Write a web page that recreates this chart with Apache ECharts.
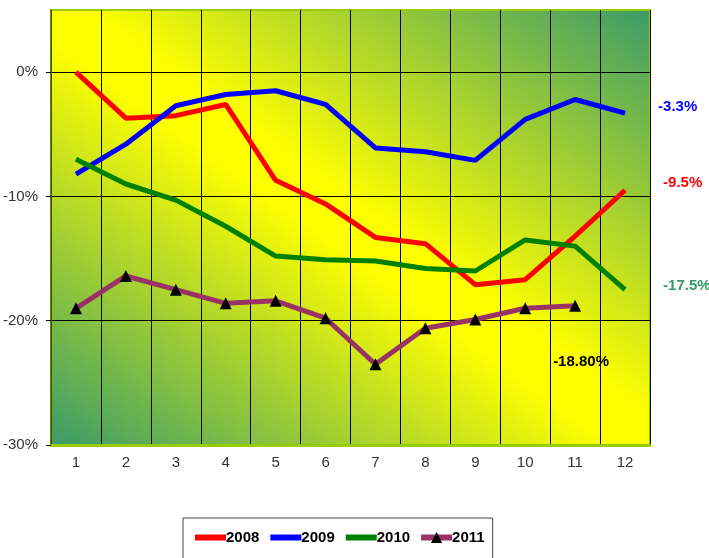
<!DOCTYPE html>
<html>
<head>
<meta charset="utf-8">
<script src="https://cdn.jsdelivr.net/npm/echarts@6/dist/echarts.min.js"></script>
<style>
html,body{margin:0;padding:0;background:#fff;}
#c{width:709px;height:558px;}
</style>
</head>
<body>
<div id="c"></div>
<script>
var months = ['1','2','3','4','5','6','7','8','9','10','11','12'];
var s2008 = [0.0, -3.7, -3.5, -2.6, -8.7, -10.6, -13.3, -13.8, -17.1, -16.7, -13.2, -9.5];
var s2009 = [-8.2, -5.8, -2.7, -1.8, -1.5, -2.6, -6.1, -6.4, -7.1, -3.8, -2.2, -3.3];
var s2010 = [-7.0, -9.0, -10.3, -12.4, -14.8, -15.1, -15.2, -15.8, -16.0, -13.5, -14.0, -17.5];
var s2011 = [-19.0, -16.4, -17.5, -18.6, -18.4, -19.8, -23.5, -20.6, -19.9, -19.0, -18.8];
var yTicks = [-30, -20, -10, 0];

var FONT = "'Liberation Sans Narrow', 'Arial Narrow', 'Liberation Sans', Arial, sans-serif";
var chart = echarts.init(document.getElementById('c'));

function endLab(color, digits, offset) {
  return {
    show: true,
    distance: 0,
    offset: offset,
    color: color,
    fontFamily: FONT,
    fontWeight: 'bold',
    fontSize: 15,
    formatter: function (p) { return Number(p.value).toFixed(digits) + '%'; }
  };
}

chart.setOption({
  animation: false,
  backgroundColor: '#ffffff',
  grid: {
    left: 50, right: 59, top: 10, bottom: 113,
    show: true,
    borderColor: '#99cc00',
    borderWidth: 2,
    backgroundColor: new echarts.graphic.LinearGradient(0.156, 1.155, 0.844, -0.155, [
      { offset: 0, color: '#3a9a6a' },
      { offset: 0.47, color: '#ffff00' },
      { offset: 0.53, color: '#ffff00' },
      { offset: 1, color: '#3a9a6a' }
    ])
  },
  legend: {
    left: 183, top: 518,
    itemWidth: 31, itemHeight: 14, itemGap: 8,
    padding: [12, 8, 30, 9],
    borderColor: '#444', borderWidth: 1,
    lineStyle: { width: 6, cap: 'butt' },
    textStyle: { color: '#000', fontFamily: FONT, fontWeight: 'bold', fontSize: 15, padding: [0, 0, 0, -5] },
    data: [
      { name: '2008', itemStyle: { opacity: 0 } },
      { name: '2009', itemStyle: { opacity: 0 } },
      { name: '2010', itemStyle: { opacity: 0 } },
      { name: '2011' }
    ]
  },
  xAxis: {
    type: 'category',
    data: months,
    boundaryGap: true,
    axisLine: { show: true, onZero: false, lineStyle: { color: '#99cc00', width: 3 } },
    axisTick: { show: false },
    axisLabel: { color: '#333', fontFamily: FONT, fontSize: 15, margin: 10 },
    splitLine: { show: true, lineStyle: { color: '#000', width: 1 } }
  },
  yAxis: {
    type: 'value',
    min: -30, max: 5, interval: 10,
    axisLine: { show: true, lineStyle: { color: '#556b00', width: 1.5 } },
    axisTick: { show: true, length: 5, customValues: yTicks, lineStyle: { color: '#000' } },
    axisLabel: {
      color: '#333', fontFamily: FONT, fontSize: 15, margin: 13,
      customValues: yTicks,
      formatter: function (v) { return yTicks.indexOf(v) >= 0 ? v + '%' : ''; }
    },
    splitLine: { show: true, lineStyle: { color: '#000', width: 1 } }
  },
  series: [
    {
      name: '2008', type: 'line', data: s2008, showSymbol: false, symbol: 'none',
      lineStyle: { color: '#ff0000', width: 5 }, itemStyle: { color: '#ff0000' },
      endLabel: endLab('#ff0000', 1, [38, -7])
    },
    {
      name: '2009', type: 'line', data: s2009, showSymbol: false, symbol: 'none',
      lineStyle: { color: '#0000ff', width: 5 }, itemStyle: { color: '#0000ff' },
      endLabel: endLab('#0000ff', 1, [33, -6])
    },
    {
      name: '2010', type: 'line', data: s2010, showSymbol: false, symbol: 'none',
      lineStyle: { color: '#008000', width: 5 }, itemStyle: { color: '#008000' },
      endLabel: endLab('#339966', 1, [38, -4])
    },
    {
      name: '2011', type: 'line', data: s2011, symbol: 'triangle', symbolSize: 12, showSymbol: true,
      lineStyle: { color: '#993366', width: 5 }, itemStyle: { color: '#000000' },
      endLabel: endLab('#000000', 2, [-22, 56])
    }
  ]
});
</script>
</body>
</html>
